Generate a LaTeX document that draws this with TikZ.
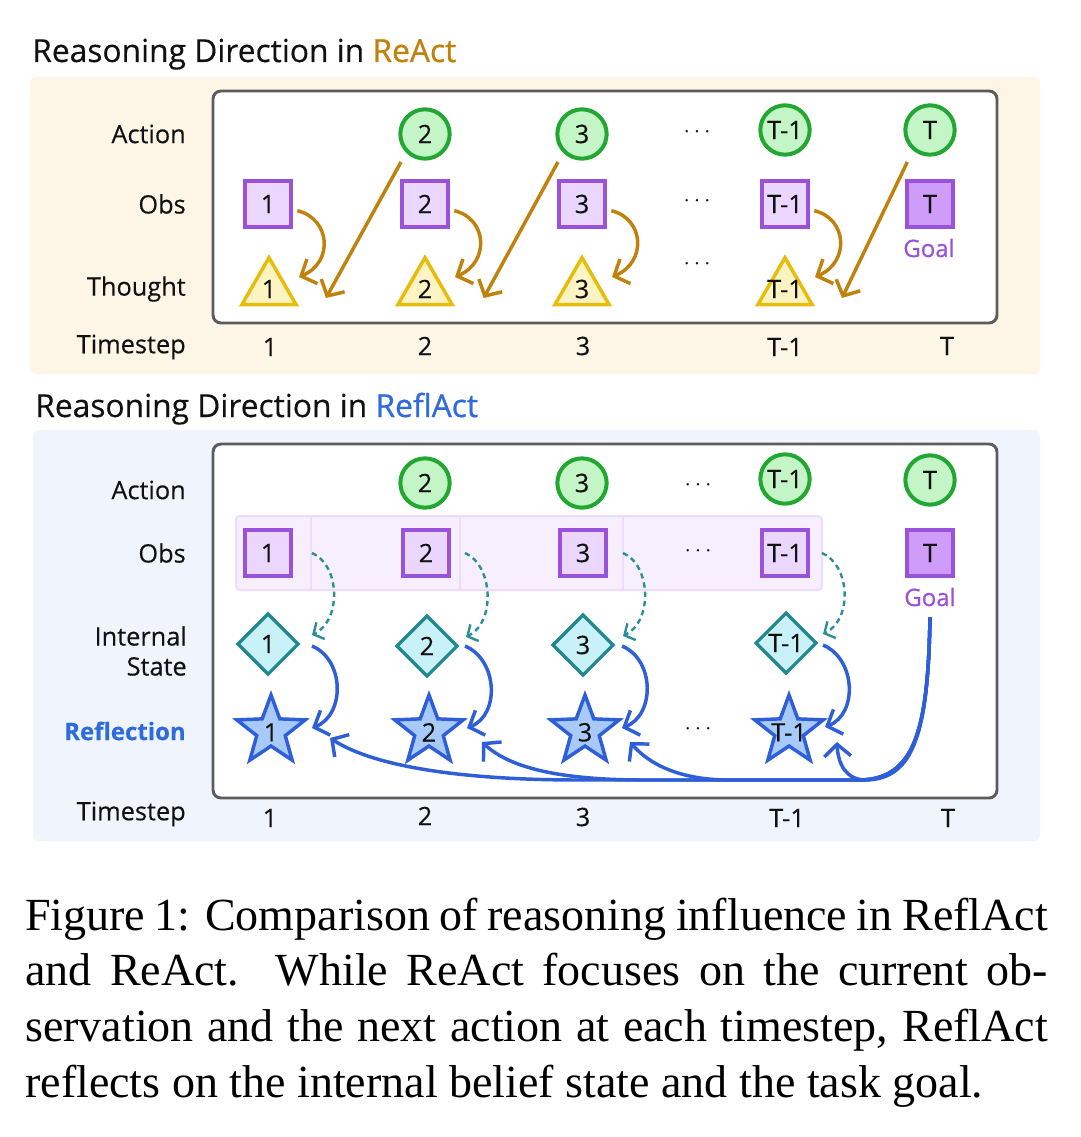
\documentclass[tikz,border=0pt]{standalone}
\usepackage{fontspec}
\setmainfont{Open Sans}[FakeBold=0.3]
\newfontfamily\capfont{Liberation Serif}
\newfontfamily\semifont[FakeBold=0.8]{Open Sans}
\usetikzlibrary{shapes.geometric,arrows.meta}
\definecolor{creambg}{HTML}{FDF6E7}
\definecolor{bluebg}{HTML}{EFF4FD}
\definecolor{boxgray}{HTML}{5C5C5C}
\definecolor{actfill}{HTML}{C4F5C6}
\definecolor{actline}{HTML}{22A832}
\definecolor{obsfill}{HTML}{EBD6FE}
\definecolor{obsline}{HTML}{9B52DA}
\definecolor{goalfill}{HTML}{D09CFA}
\definecolor{thfill}{HTML}{FEF3C3}
\definecolor{thline}{HTML}{E6BD0A}
\definecolor{reactc}{HTML}{C0820C}
\definecolor{stfill}{HTML}{C9F2F8}
\definecolor{stline}{HTML}{23878F}
\definecolor{rffill}{HTML}{A8CAFB}
\definecolor{rfline}{HTML}{2E5FD8}
\definecolor{reflc}{HTML}{2F6BDE}
\definecolor{bandfill}{HTML}{F7EFFE}
\definecolor{bandline}{HTML}{EEDCFC}
\definecolor{dashc}{HTML}{2B8F9B}
\definecolor{txt}{HTML}{111111}
\begin{document}
\begin{tikzpicture}[x=0.75pt,y=-0.75pt,
  lbl/.style={font=\fontsize{19}{22}\selectfont, text=txt, inner sep=0pt},
  rowlbl/.style={lbl, anchor=east},
  actnode/.style={circle, draw=actline, fill=actfill, line width=3pt, minimum size=37pt, inner sep=0pt, lbl},
  obsnode/.style={rectangle, draw=obsline, fill=obsfill, line width=3pt, minimum size=34pt, inner sep=0pt, lbl},
  goalnode/.style={obsnode, fill=goalfill},
  thnode/.style={regular polygon, regular polygon sides=3, draw=thline, fill=thfill, line width=2.6pt, minimum size=47pt, inner sep=0pt},
  stnode/.style={diamond, aspect=1, draw=stline, fill=stfill, line width=2.4pt, minimum size=46pt, inner sep=0pt},
  rfnode/.style={star, star points=5, star point ratio=2.4, draw=rfline, fill=rffill, line width=2.6pt, minimum size=54pt, inner sep=0pt},
  goaltxt/.style={font=\fontsize{18}{21}\semifont, text=obsline, inner sep=0pt},
  dotstxt/.style={lbl},
  titletxt/.style={font=\fontsize{23.8}{28}\selectfont, text=txt, inner sep=0pt, anchor=base west},
  captxt/.style={font=\fontsize{34.5}{42}\capfont, text=black, inner sep=0pt, anchor=base west},
  garrow/.style={draw=reactc, line width=2.6pt, -{Straight Barb[length=9pt,width=20pt]}},
  barrow/.style={draw=rfline, line width=2.6pt, -{Straight Barb[length=9pt,width=20pt]}},
  darrow/.style={draw=dashc, line width=1.8pt, dash pattern=on 4pt off 3pt, -{Straight Barb[length=6pt,width=14pt]}},
  panel/.style={rounded corners=4pt},
  innerbox/.style={draw=boxgray, fill=white, line width=2.2pt, rounded corners=6pt}
]
\useasboundingbox (0,0) rectangle (1080,1137);
\fill[white] (0,0) rectangle (1080,1137);

% ================= TOP: ReAct =================
\node[titletxt] (title1) at (32,62) {Reasoning Direction in {\semifont\color{reactc}ReAct}};
\fill[creambg, panel] (30,77) rectangle (1040,374);
\draw[innerbox] (213,91) rectangle (997,323);

\node[rowlbl] (la1) at (186,134) {Action};
\node[rowlbl] (lo1) at (186,204) {Obs};
\node[rowlbl] (lt1) at (186,289) {Thought};
\node[rowlbl] (ls1) at (186,347) {Timestep};

% actions
\node[actnode] (a2) at (425,134) {2};
\node[actnode] (a3) at (582,134) {3};
\node[actnode] (a4) at (785,130) {T-1};
\node[actnode] (a5) at (930,130) {T};
% observations
\node[obsnode] (o1) at (268,204) {1};
\node[obsnode] (o2) at (425,204) {2};
\node[obsnode] (o3) at (582,204) {3};
\node[obsnode] (o4) at (785,204) {T-1};
\node[goalnode] (o5) at (930,204) {T};
\node[goaltxt] (g1) at (929,248) {Goal};
% thoughts
\foreach \i/\x/\t in {1/269/1, 2/425/2, 3/582/3, 4/785/T-1}{
  \node[thnode] (t\i) at (\x,289) {};
  \node[lbl] (tl\i) at (t\i.center) {\t};
}
% dots
\node[dotstxt] (d1) at (697,132) {$\cdots$};
\node[dotstxt] (d2) at (697,201) {$\cdots$};
\node[dotstxt] (d3) at (697,264) {$\cdots$};
% timesteps
\node[lbl] (n11) at (270,347) {1};
\node[lbl] (n12) at (425,346) {2};
\node[lbl] (n13) at (583,346) {3};
\node[lbl] (n14) at (785,347) {T-1};
\node[lbl] (n15) at (947,346) {T};

% arrows obs -> thought
\foreach \i in {1,2,3,4}{
  \draw[garrow] ([xshift=22pt,yshift=-5pt]o\i.center) .. controls +(33,8) and +(35,-15) .. ([xshift=22.5pt,yshift=9pt]t\i.center);
}
% arrows action(t+1) -> thought(t)
\draw[garrow] ([xshift=-18pt,yshift=-21pt]a2.center) -- ([xshift=42.75pt,yshift=-6.75pt]t1.center);
\draw[garrow] ([xshift=-18pt,yshift=-21pt]a3.center) -- ([xshift=44pt,yshift=-6.75pt]t2.center);
\draw[garrow] ([xshift=-17pt,yshift=-24pt]a5.center) -- ([xshift=42.75pt,yshift=-6.75pt]t4.center);

% ================= BOTTOM: ReflAct =================
\node[titletxt] (title2) at (35,417) {Reasoning Direction in {\semifont\color{reflc}ReflAct}};
\fill[bluebg, panel] (33,430) rectangle (1040,841);
\draw[innerbox] (213,444) rectangle (997,798);

\node[rowlbl] (la2) at (186,490) {Action};
\node[rowlbl] (lo2) at (186,553) {Obs};
\node[lbl, anchor=east, align=right, font=\fontsize{19}{22.5}\selectfont] (li2) at (187,651) {Internal\\State};
\node[anchor=east, inner sep=0pt, font=\fontsize{18}{21}\bfseries, text=reflc] (lr2) at (186,731) {Reflection};
\node[rowlbl] (ls2) at (186,814) {Timestep};

% obs band
\filldraw[fill=bandfill, draw=bandline, line width=1.5pt, rounded corners=3pt] (236,516) rectangle (822,590);
\foreach \x in {311,460,623}{
  \draw[bandline, line width=1.5pt] (\x,517) -- (\x,589);
}

% actions
\node[actnode] (A2) at (425,483) {2};
\node[actnode] (A3) at (582,483) {3};
\node[actnode] (A4) at (785,479) {T-1};
\node[actnode] (A5) at (930,480) {T};
% obs
\node[obsnode] (O1) at (268,553) {1};
\node[obsnode] (O2) at (426,553) {2};
\node[obsnode] (O3) at (583,553) {3};
\node[obsnode] (O4) at (785,553) {T-1};
\node[goalnode] (O5) at (930,553) {T};
\node[goaltxt] (G2) at (930,597) {Goal};
% internal states
\node[stnode, lbl] (S1) at (268,644) {1};
\node[stnode, lbl] (S2) at (427,646) {2};
\node[stnode, lbl] (S3) at (583,645) {3};
\node[stnode, lbl] (S4) at (786,643) {T-1};
% reflections
\foreach \i/\x/\t in {1/271/1, 2/429/2, 3/585/3, 4/789/T-1}{
  \node[rfnode] (R\i) at (\x,731) {};
  \node[lbl] (Rl\i) at ([yshift=-1pt]R\i.center) {\t};
}
% dots
\node[dotstxt] (D1) at (698,485) {$\cdots$};
\node[dotstxt] (D2) at (698,551) {$\cdots$};
\node[dotstxt] (D3) at (698,729) {$\cdots$};
% timesteps
\node[lbl] (N21) at (270,818) {1};
\node[lbl] (N22) at (425,816) {2};
\node[lbl] (N23) at (583,817) {3};
\node[lbl] (N24) at (787,818) {T-1};
\node[lbl] (N25) at (948,818) {T};

% dashed arrows obs -> internal state
\foreach \i/\dx in {1/33, 2/29.25, 3/30, 4/27.75}{
  \draw[darrow] ([xshift=\dx pt]O\i.center) .. controls +(28,12) and +(30,-15) .. ([xshift=\dx pt,yshift=6.75pt]S\i.center);
}
% solid arrows internal state -> reflection
\draw[barrow] ([xshift=33pt,yshift=-1.5pt]S1.center) .. controls +(33,14) and +(33,-13) .. ([xshift=30.75pt,yshift=2.25pt]R1.center);
\draw[barrow] ([xshift=28.5pt]S2.center) .. controls +(33,14) and +(33,-13) .. ([xshift=28.5pt,yshift=2.25pt]R2.center);
\draw[barrow] ([xshift=29.25pt,yshift=-0.75pt]S3.center) .. controls +(33,14) and +(33,-13) .. ([xshift=27.75pt,yshift=2.25pt]R3.center);
\draw[barrow] ([xshift=27.75pt,yshift=-1.5pt]S4.center) .. controls +(33,14) and +(33,-13) .. ([xshift=27pt,yshift=3pt]R4.center);

% goal -> reflections
\draw[barrow] ([yshift=-8pt]G2.south) .. controls (928,730) and (915,779) .. (860,780) -- (580,780) .. controls (450,780) and (370,764) .. ([xshift=44.25pt,yshift=-5.25pt]R1.center);
\draw[barrow] ([yshift=-8pt]G2.south) .. controls (928,730) and (915,779) .. (860,780) -- (645,780) .. controls (560,780) and (510,768) .. ([xshift=39.75pt,yshift=-8.25pt]R2.center);
\draw[barrow] ([yshift=-8pt]G2.south) .. controls (928,730) and (915,779) .. (860,780) -- (725,780) .. controls (680,779) and (650,765) .. ([xshift=33.75pt,yshift=-8.25pt]R3.center);
\draw[barrow] ([yshift=-8pt]G2.south) .. controls (928,730) and (915,779) .. (866,780) .. controls (846,780) and (838,764) .. ([xshift=36pt,yshift=-8.25pt]R4.center);

% ================= CAPTION =================
\node[captxt] (c1) at (25,930) {\makebox[767pt][s]{Figure 1: Comparison of reasoning influence in ReflAct}};
\node[captxt] (c2) at (25,985) {\makebox[767pt][s]{and ReAct.\ \ While ReAct focuses on the current ob-}};
\node[captxt] (c3) at (25,1041) {\makebox[767pt][s]{servation and the next action at each timestep, ReflAct}};
\node[captxt] (c4) at (25,1097) {reflects on the internal belief state and the task goal.};
\end{tikzpicture}
\end{document}
